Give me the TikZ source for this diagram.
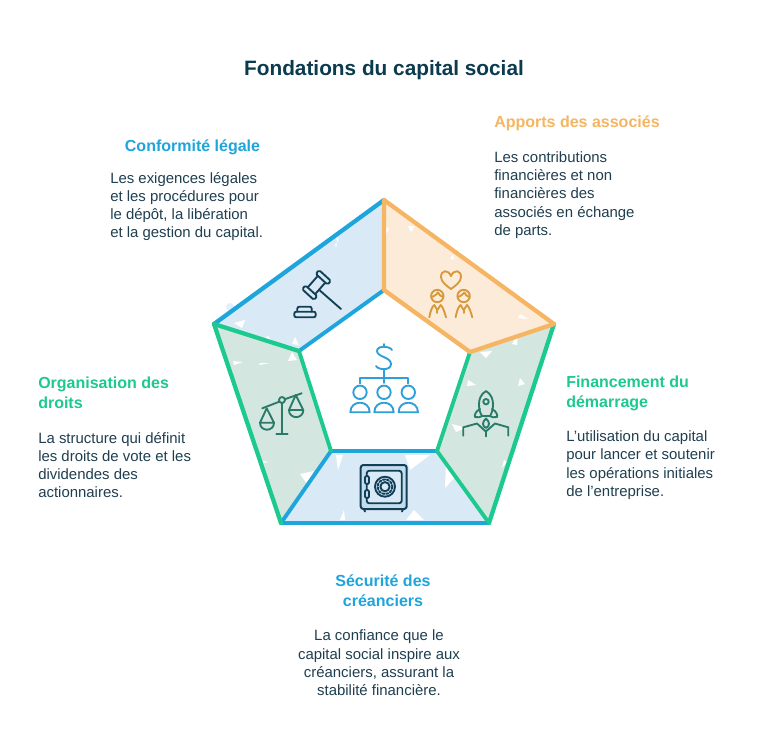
\documentclass[tikz,border=0pt]{standalone}
\usepackage{fontspec}
\setmainfont{Liberation Sans}
\definecolor{ink}{HTML}{1F3F50}
\definecolor{titleink}{HTML}{0B3B4F}
\definecolor{bl}{HTML}{1EA5DC}
\definecolor{orng}{HTML}{F5B563}
\definecolor{grn}{HTML}{1CC98F}
\definecolor{blfill}{HTML}{D9EAF6}
\definecolor{orfill}{HTML}{FDEBD9}
\definecolor{grfill}{HTML}{D3E6E0}
\definecolor{iconblue}{HTML}{2F9FD8}
\definecolor{icongreen}{HTML}{2A7A68}
\definecolor{iconorange}{HTML}{D49A3C}
\definecolor{icondark}{HTML}{123F56}
\definecolor{safefill}{HTML}{C4DDEE}
\tikzset{
  x=.75pt,y=-.75pt,
  edgeline/.style={line width=3.2pt,line cap=round,line join=round},
  innerline/.style={line width=2.9pt,line cap=round,line join=round},
  body/.style={text=ink,font=\fontsize{11.2pt}{13.7pt}\selectfont,inner sep=0pt},
  head/.style={font=\fontsize{12pt}{15pt}\selectfont\bfseries,inner sep=0pt},
  iconstroke/.style={line width=1.4pt,line cap=round,line join=round},
  speck/.style={fill=white}
}
\begin{document}
\begin{tikzpicture}
\useasboundingbox (0,0) rectangle (768,744);
\fill[white] (0,0) rectangle (768,744);
\coordinate (T) at (384,200);
\coordinate (R) at (554,324);
\coordinate (BR) at (489,523);
\coordinate (BL) at (281,523);
\coordinate (L) at (214,324);
\coordinate (iT) at (384,290);
\coordinate (iR) at (470,352);
\coordinate (iBR) at (437,451);
\coordinate (iBL) at (331,451);
\coordinate (iL) at (299,351);
% faint blobs outside the outline
\fill[blfill!70] (230,307) circle (4);
% fills
\fill[blfill] (L)--(T)--(iT)--(iL)--cycle;
\fill[orfill] (T)--(R)--(iR)--(iT)--cycle;
\fill[grfill] (R)--(BR)--(iBR)--(iR)--cycle;
\fill[blfill] (BL)--(BR)--(iBR)--(iBL)--cycle;
\fill[grfill] (L)--(BL)--(iBL)--(iL)--cycle;
% white specks
\foreach \ax/\ay/\bx/\by/\cx/\cy in {
 234/323/245/320/242/328, 268/336/272/341/264/338, 295/337/299/345/292/344,
 335/244/337/243/336/248, 336/238/338/237/338/243,
 408/226/415/226/411/232, 386/226/389/229/386/234, 450/258/453/255/454/260, 520/314/528/319/518/318,
 480/352/492/351/486/358, 512/344/518/334/517/345, 468/380/476/385/467/386, 452/424/466/428/456/432,
 520/378/525/384/518/386, 504/460/507/462/502/468, 460/368/468/360/462/376,
 446/464/456/476/445/488, 405/455/430/455/410/470, 336/455/343/455/338/470, 414/510/424/520/406/520,
 344/510/345/520/340/520,
 233/361/243/362/234/365, 260/363/270/363/259/365, 244/422/249/427/245/430, 300/474/314/471/307/484,
 263/461/269/462/263/463, 292/352/297/360/288/361
}{\fill[speck] (\ax,\ay)--(\bx,\by)--(\cx,\cy)--cycle;}
% edges
\draw[edgeline,bl] (L)--(T);
\draw[innerline,bl] (iL)--(iT);
\draw[edgeline,bl] (BL)--(BR);
\draw[innerline,bl] (iBL)--(iBR);
\draw[innerline,bl] (BL)--(iBL);
\draw[edgeline,grn] (L)--(BL);
\draw[innerline,grn] (iBL)--(iL);
\draw[edgeline,grn] (iL)--(L);
\draw[edgeline,grn] (R)--(BR);
\draw[innerline,grn] (BR)--(iBR)--(iR);
\draw[edgeline,orng] (iT)--(T)--(R)--(iR)--(iT);
% gavel
\begin{scope}[iconstroke,icondark]
\draw[rounded corners=1.2pt] (317.3,296.2)--(313.9,299.9)--(302.1,289.1)--(305.5,285.4)--cycle;
\draw[rounded corners=1.2pt] (330.9,280.9)--(327.5,284.6)--(315.7,273.8)--(319.1,270.1)--cycle;
\draw (315.1,294.2)--(325.3,282.6) (307.7,287.4)--(317.9,275.8);
\draw (319.3,290)--(341,309);
\draw[rounded corners=1.5pt] (294.3,311.7) rectangle (315.7,317.3);
\draw[rounded corners=1.5pt] (297.3,311.7)--(297.3,306.7)--(311.7,306.7)--(311.7,311.7);
\end{scope}
% scales
\begin{scope}[iconstroke,icongreen]
\draw (282,403)--(282,434.3) (276.3,434.3)--(287.7,434.3);
\draw (282,400) circle (3);
\draw (262.3,408.3)--(279.2,401.7) (284.8,399.2)--(301.7,393.3);
\draw (260,422.7)--(266.7,408.3)--(274,422.7)--cycle;
\draw (260,422.7) .. controls (260,432) and (274,432) .. (274,422.7);
\draw (289,410)--(295.7,395)--(303.3,410)--cycle;
\draw (289,410) .. controls (289,419.5) and (303.3,419.5) .. (303.3,410);
\end{scope}
% rocket
\begin{scope}[iconstroke,icongreen]
\draw (486,391) .. controls (481,394) and (479,399) .. (479,404) .. controls (479,409) and (480,413) .. (482,416) -- (490,416) .. controls (492,413) and (493,409) .. (493,404) .. controls (493,399) and (491,394) .. (486,391) -- cycle;
\draw (486,401.7) circle (2.7);
\draw (480,409) .. controls (476,411) and (474,415) .. (475,417) .. controls (478,418) and (481,417) .. (482,416);
\draw (492,409) .. controls (496,411) and (498,415) .. (497,417) .. controls (494,418) and (491,417) .. (490,416);
\draw (486,418.5) .. controls (482,422) and (482,426) .. (486,428) .. controls (490,426) and (490,422) .. (486,418.5) -- cycle;
\draw (463.3,435.7)--(463.3,427.3)--(477,423.5)--(485.8,431.5)--(495,423.5)--(508.3,427.3)--(508.3,435.7);
\draw (485.8,431.5)--(485.8,436.5);
\end{scope}
% safe
\begin{scope}[iconstroke,icondark]
\draw[fill=safefill,rounded corners=2pt,line width=1.5pt] (360.7,465) rectangle (406.7,509);
\draw[fill=blfill,rounded corners=2pt] (366.7,470.7) rectangle (401.7,503.3);
\draw[fill=safefill] (385,486.7) circle (10);
\draw[fill=blfill] (385,486.7) circle (4.6);
\draw[dash pattern=on 1.6pt off 1.4pt] (385,486.7) circle (7.3);
\draw[fill=safefill,rounded corners=1pt] (365,476) rectangle (369,484);
\draw[fill=safefill,rounded corners=1pt] (365,490) rectangle (369,498);
\draw (364,509)--(365,511.5) (403,509)--(402,511.5);
\end{scope}
% central icon
\begin{scope}[iconstroke,iconblue]
\draw (392,350) .. controls (390,346) and (377,345) .. (377,351) .. controls (377,357) and (391,357) .. (391,364) .. controls (391,371) and (378,370) .. (376,366);
\draw (384,344)--(384,347) (384,369)--(384,378.3);
\draw (360,383.3)--(360,378.3)--(408.3,378.3)--(408.3,383.3) (384,378.3)--(384,383);
\foreach \cx in {360,384,408.3}{
  \draw (\cx,392.3) circle (6.7);
  \draw (\cx-9.7,412.3) .. controls (\cx-9.7,399.5) and (\cx+9.7,399.5) .. (\cx+9.7,412.3) -- cycle;
}
\end{scope}
% people
\begin{scope}[iconstroke,iconorange]
\draw (451,276) .. controls (448,269) and (441,270) .. (441,277) .. controls (441,282) and (447,286) .. (451,289) .. controls (455,286) and (461,282) .. (461,277) .. controls (461,270) and (454,269) .. (451,276) -- cycle;
\foreach \dx in {0,26.3}{
  \draw (437.3+\dx,296) circle (6.2);
  \draw (431.3+\dx,297) .. controls (435+\dx,296) and (437+\dx,294) .. (438+\dx,292.5) .. controls (439+\dx,295) and (441+\dx,296.5) .. (443.3+\dx,297);
  \draw (429.3+\dx,317.3) .. controls (430.5+\dx,312) and (431.5+\dx,307) .. (434.3+\dx,305) -- (437.3+\dx,310) -- (440.7+\dx,305) .. controls (443+\dx,307) and (444.5+\dx,312) .. (446+\dx,317.3);
  \draw (437.3+\dx,310)--(437.3+\dx,313);
}
\end{scope}
% texts
\node[text=titleink,font=\fontsize{15.6pt}{18pt}\selectfont\bfseries,inner sep=0pt] (title) at (384,70) {Fondations du capital social};
\node[head,text=bl,anchor=center] (h1) at (192.5,147) {Conformité légale};
\node[body,align=left,anchor=west] (b1) at (110,206.5) {Les exigences légales\\et les procédures pour\\le dépôt, la libération\\et la gestion du capital.};
\node[head,text=orng,anchor=west] (h2) at (494,123) {Apports des associés};
\node[body,align=left,anchor=west] (b2) at (494,195) {Les contributions\\financières et non\\financières des\\associés en échange\\de parts.};
\node[head,text=grn,align=left,anchor=west] (h3) at (566,393) {Financement du\\démarrage};
\node[body,align=left,anchor=west] (b3) at (566,465) {L\char39 utilisation du capital\\pour lancer et soutenir\\les opérations initiales\\de l\char39 entreprise.};
\node[head,text=grn,align=left,anchor=west] (h4) at (38,393) {Organisation des\\droits};
\node[body,align=left,anchor=west] (b4) at (38,465) {La structure qui définit\\les droits de vote et les\\dividendes des\\actionnaires.};
\node[head,text=bl,align=center] (h5) at (383,591) {Sécurité des\\créanciers};
\node[body,align=center] (b5) at (379,663) {La confiance que le\\capital social inspire aux\\créanciers, assurant la\\stabilité financière.};
\end{tikzpicture}
\end{document}
